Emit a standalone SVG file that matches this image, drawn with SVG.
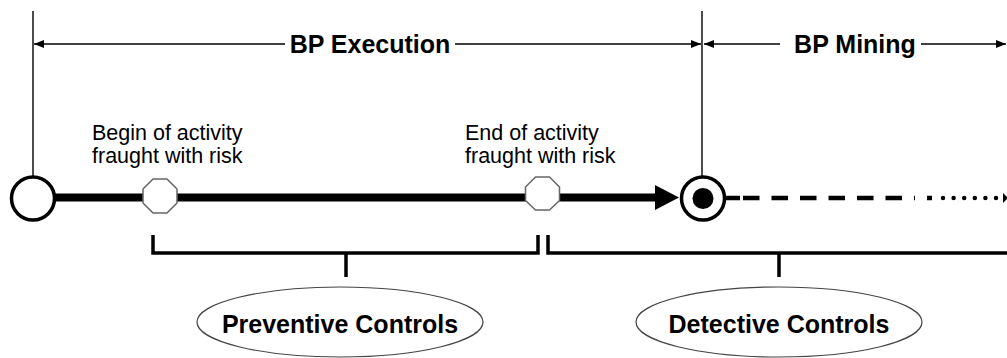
<svg xmlns="http://www.w3.org/2000/svg" width="1007" height="358" viewBox="0 0 1007 358">
  <style>
    .thin { stroke: #000; stroke-width: 1.4; fill: none; }
    .bold { font-family: "Liberation Sans", Arial, sans-serif; font-weight: bold; font-size: 25px; fill: #000; }
    .note { font-family: "Liberation Sans", Arial, sans-serif; font-size: 21.5px; fill: #000; }
    .bracket { stroke: #000; stroke-width: 3.5; fill: none; }
    .event { fill: #fff; stroke: #000; stroke-width: 3.5; }
    .octa { fill: #fff; stroke: #666; stroke-width: 1.5; }
    .oval { fill: #fff; stroke: #444; stroke-width: 1.2; }
  </style>
  <defs>
    <marker id="tip" viewBox="0 0 10 8" refX="10" refY="4" markerWidth="10" markerHeight="8" markerUnits="userSpaceOnUse" orient="auto-start-reverse">
      <path d="M0,0 L10,4 L0,8 Z" fill="#000"/>
    </marker>
  </defs>

  <!-- phase dimension lines -->
  <g id="connectors">
    <line class="thin" x1="33" y1="11" x2="33" y2="177"/>
    <line class="thin" x1="702" y1="11" x2="702" y2="176"/>
    <line class="thin" x1="34" y1="44" x2="285" y2="44" marker-start="url(#tip)"/>
    <line class="thin" x1="455" y1="44" x2="701" y2="44" marker-end="url(#tip)"/>
    <line class="thin" x1="704" y1="44" x2="780" y2="44" marker-start="url(#tip)"/>
    <line class="thin" x1="921" y1="44" x2="1006" y2="44" marker-end="url(#tip)"/>

    <!-- process flow -->
    <line x1="54" y1="197.5" x2="657" y2="197.5" stroke="#000" stroke-width="8"/>
    <path d="M655,185 L679,197.5 L655,210 Z" fill="#000"/>
    <line x1="726" y1="198" x2="740" y2="198" stroke="#000" stroke-width="4.5"/>
    <line x1="743" y1="198" x2="915" y2="198" stroke="#000" stroke-width="4.5" stroke-dasharray="16.5 12"/>
    <line x1="927" y1="198" x2="932" y2="198" stroke="#000" stroke-width="4.5"/>
    <line x1="943" y1="198" x2="1000" y2="198" stroke="#000" stroke-width="4.5" stroke-linecap="round" stroke-dasharray="0 10.6"/>
    <path d="M1003,193 L1008,198 L1003,203 Z" fill="#000"/>

    <!-- control brackets -->
    <path class="bracket" d="M153,235 V253 H538 V235"/>
    <line class="bracket" x1="346" y1="253" x2="346" y2="277"/>
    <path class="bracket" d="M548,235 V253 H1008"/>
    <line class="bracket" x1="779" y1="253" x2="779" y2="277"/>
  </g>

  <g id="label-execution">
    <text class="bold" x="370" y="52.5" text-anchor="middle">BP Execution</text>
  </g>
  <g id="label-mining">
    <text class="bold" x="855" y="52.5" text-anchor="middle">BP Mining</text>
  </g>

  <g id="start-event">
    <circle class="event" cx="33" cy="198.5" r="21.5"/>
  </g>

  <g id="risk-begin">
    <polygon class="octa" points="153,179 167,179 177,189 177,203 167,213 153,213 143,203 143,189"/>
    <text class="note" x="92" y="139.5">Begin of activity</text>
    <text class="note" x="92" y="163">fraught with risk</text>
  </g>

  <g id="risk-end">
    <polygon class="octa" points="535.5,177 549.5,177 559.5,187 559.5,200.5 549.5,210 535.5,210 525.5,200.5 525.5,187"/>
    <text class="note" x="465" y="139.5">End of activity</text>
    <text class="note" x="465" y="163">fraught with risk</text>
  </g>

  <g id="end-event">
    <circle class="event" cx="703" cy="198.5" r="21.5"/>
    <circle cx="703" cy="198.5" r="10.5" fill="#000"/>
  </g>

  <g id="preventive-controls">
    <ellipse class="oval" cx="340" cy="322" rx="143" ry="35"/>
    <text class="bold" x="340" y="333" text-anchor="middle">Preventive Controls</text>
  </g>

  <g id="detective-controls">
    <ellipse class="oval" cx="779" cy="322" rx="143" ry="35"/>
    <text class="bold" x="779" y="333" text-anchor="middle">Detective Controls</text>
  </g>
</svg>
